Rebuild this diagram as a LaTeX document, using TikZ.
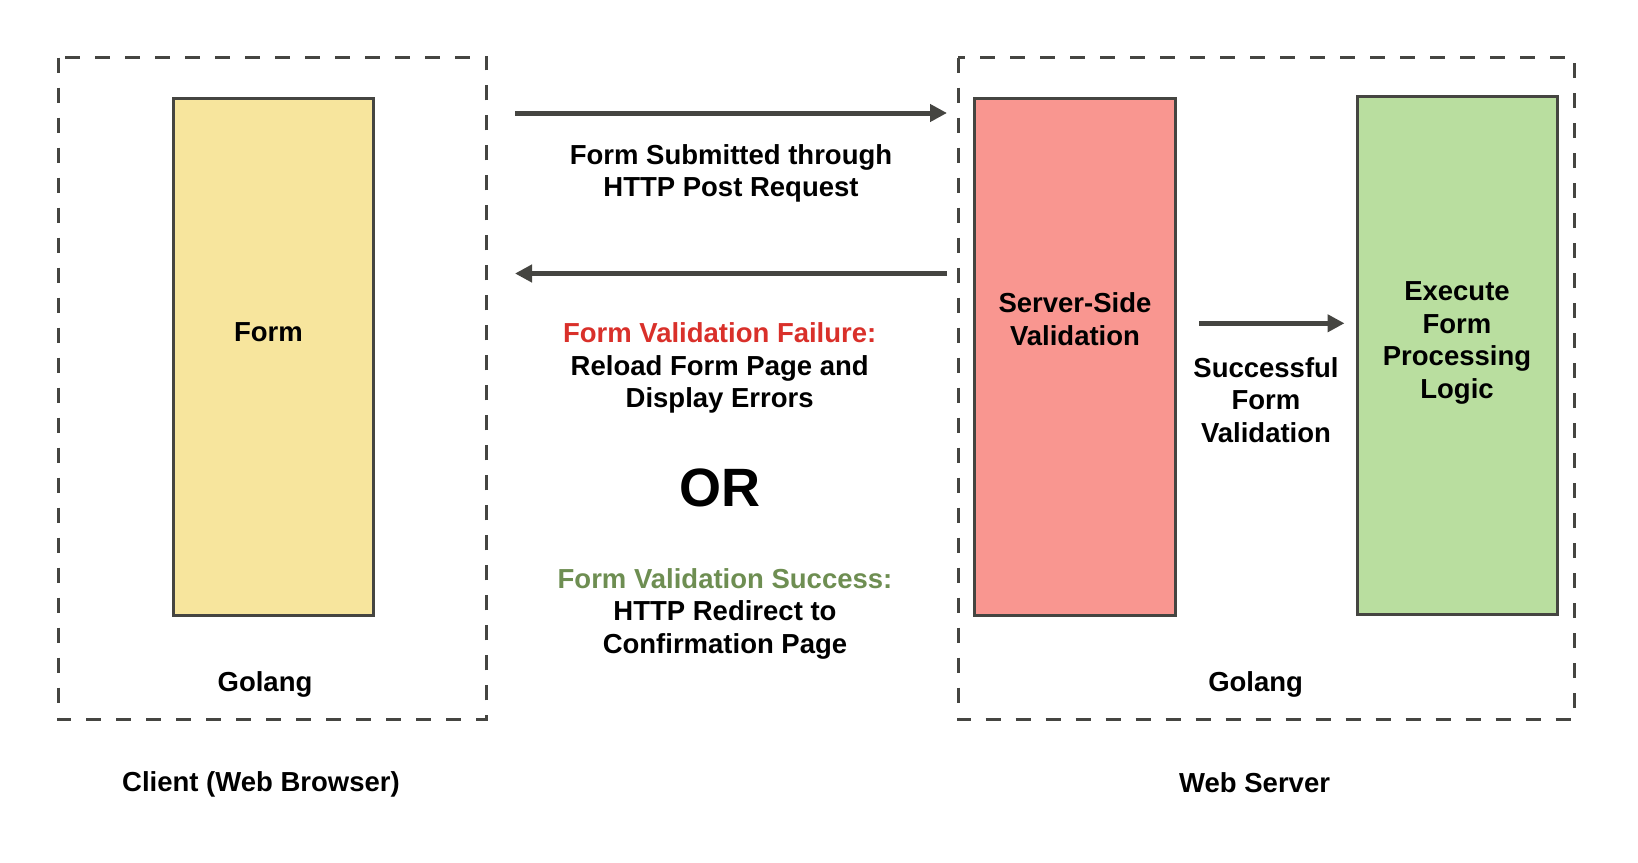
\documentclass[tikz,border=0pt]{standalone}
\usepackage{fontspec}
\setmainfont{Liberation Sans}
\usetikzlibrary{arrows.meta}
\definecolor{edge}{HTML}{454541}
\definecolor{yfill}{HTML}{F7E59D}
\definecolor{rfill}{HTML}{F99690}
\definecolor{gfill}{HTML}{B9DE9F}
\definecolor{redtxt}{HTML}{D9302A}
\definecolor{grntxt}{HTML}{6E8E52}
\tikzset{
  region/.style={draw=edge, line width=1.5pt, dash pattern=on 7.5pt off 7.5pt},
  block/.style={draw=edge, line width=1.5pt},
  lbl/.style={font=\bfseries\fontsize{13.75pt}{16.25pt}\selectfont, align=center, inner sep=0pt, text=black},
  flow/.style={draw=edge, line width=2.5pt, -{Triangle[length=8.5pt,width=8.5pt]}},
}
\begin{document}
\begin{tikzpicture}[x=0.5pt,y=-0.5pt]
\useasboundingbox (0,0) rectangle (1638,862);
% regions
\draw[region] (58.5,57.5) rectangle (486.8,719.8);
\draw[region] (958,57.5) rectangle (1574,719.8);
% blocks
\draw[block, fill=yfill] (173.4,98.2) rectangle (373,615.3);
\draw[block, fill=rfill] (974.6,98.2) rectangle (1175.2,615.3);
\draw[block, fill=gfill] (1357,96.5) rectangle (1557.5,614);
% block labels
\node[lbl] (form) at (268.5,332.5) {Form};
\node[lbl] (ssv) at (1075,319) {Server-Side\\Validation};
\node[lbl] (exec) at (1457,343) {Execute\\Form\\Processing\\Logic};
% connectors
\coordinate (a1s) at (515,113);
\coordinate (a1e) at (947,113);
\coordinate (a2s) at (947,273.5);
\coordinate (a2e) at (515,273.5);
\coordinate (a3s) at (1199,323.3);
\coordinate (a3e) at (1344.5,323.3);
\draw[flow] (a1s) -- (a1e);
\draw[flow] (a2s) -- (a2e);
\draw[flow] (a3s) -- (a3e);
% connector labels
\node[lbl] (post) at (731,173.5) {Form Submitted through\\HTTP Post Request};
\node[lbl] (fail) at (719.7,368) {\textcolor{redtxt}{Form Validation Failure:}\\Reload Form Page and\\Display Errors};
\node[lbl, font=\bfseries\fontsize{27pt}{30pt}\selectfont] (or) at (719.7,487.5) {OR};
\node[lbl] (succ) at (725,613.5) {\textcolor{grntxt}{Form Validation Success:}\\HTTP Redirect to\\Confirmation Page};
\node[lbl] (okv) at (1266,400) {Successful\\Form\\Validation};
% region labels
\node[lbl] (g1) at (265,684.5) {Golang};
\node[lbl] (g2) at (1255.6,684.5) {Golang};
\node[lbl] (client) at (261,784) {Client (Web Browser)};
\node[lbl] (server) at (1254.6,782.5) {Web Server};
\end{tikzpicture}
\end{document}
